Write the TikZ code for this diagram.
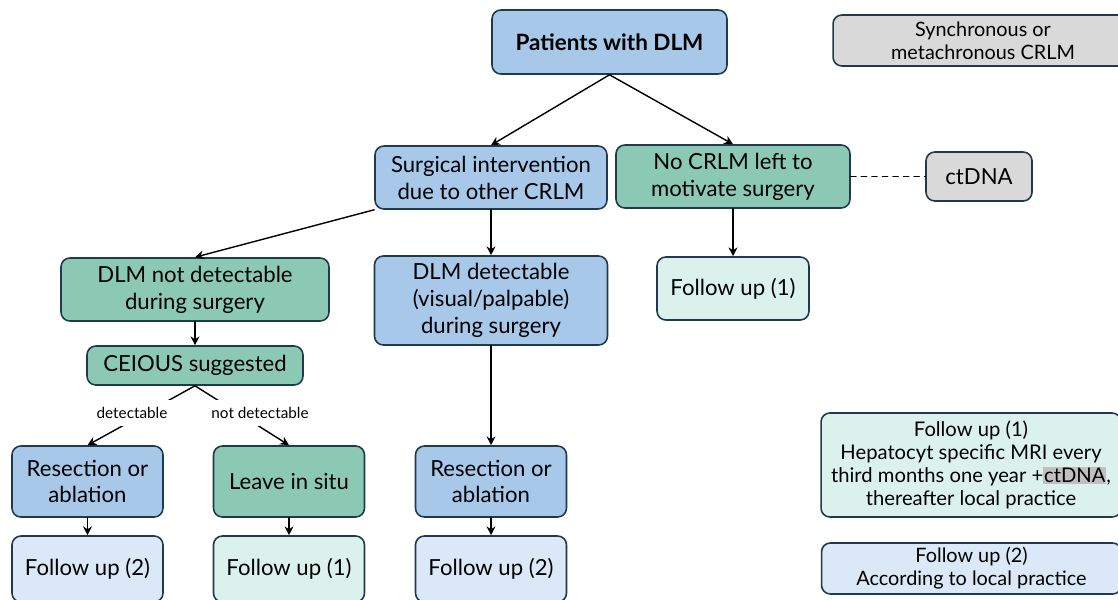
\documentclass[tikz,border=0pt]{standalone}
\usepackage{fontspec}
\setmainfont{Lato}
\usepackage{tikz}
\usetikzlibrary{arrows.meta}
\definecolor{edgeline}{RGB}{30,58,76}
\definecolor{bluebox}{RGB}{167,200,233}
\definecolor{greenbox}{RGB}{140,201,181}
\definecolor{lightgreen}{RGB}{218,242,235}
\definecolor{lightblue}{RGB}{218,232,247}
\definecolor{graybox}{RGB}{217,217,217}
\definecolor{hlgray}{RGB}{192,192,192}
\newcommand{\hlword}[1]{{\setlength{\fboxsep}{0.5pt}\colorbox{hlgray}{#1}}}

\begin{document}
\begin{tikzpicture}[x=0.02cm,y=-0.02cm,line cap=round,line join=round,>={Stealth[length=5pt,width=5pt]}]
\tikzset{box/.style={draw=edgeline,line width=0.9pt,rounded corners=5pt,align=center,inner sep=0pt,font=\fontsize{12.6}{15.3}\selectfont},
  blue/.style={box,fill=bluebox}, green/.style={box,fill=greenbox}, gray/.style={box,fill=graybox},
  lgreen/.style={box,fill=lightgreen}, lblue/.style={box,fill=lightblue},
  lbl/.style={fill=white,inner sep=4pt,font=\fontsize{8.7}{10}\selectfont},
  conn/.style={->,line width=0.8pt,black}}
\useasboundingbox (0,0) rectangle (1118,599);
% top row
\node[blue,minimum width=4.7cm,minimum height=1.28cm,font=\fontsize{12.8}{15}\selectfont\bfseries] (pat) at (609.5,42) {Patients with DLM};
\node[gray,minimum width=6cm,minimum height=1.02cm,font=\fontsize{11.3}{13}\selectfont] (sync) at (983,40.5) {Synchronous or\\metachronous CRLM};
% second row
\node[blue,minimum width=4.64cm,minimum height=1.26cm] (surg) at (491,177.5) {Surgical intervention\\due to other CRLM};
\node[green,minimum width=4.68cm,minimum height=1.26cm] (nocrlm) at (733,176.5) {No CRLM left to\\motivate surgery};
\node[gray,minimum width=2.12cm,minimum height=0.98cm] (ctdna) at (979,176.5) {ctDNA};
% third row
\node[green,minimum width=5.36cm,minimum height=1.26cm] (dlmnot) at (195,289.5) {DLM not detectable\\during surgery};
\node[blue,minimum width=4.66cm,minimum height=1.78cm] (dlmdet) at (491,300.5) {DLM detectable\\(visual/palpable)\\during surgery};
\node[lgreen,minimum width=3.04cm,minimum height=1.26cm] (fuone) at (733,288.5) {Follow up (1)};
\node[green,minimum width=4.32cm,minimum height=0.78cm] (ceious) at (195,365.5) {CEIOUS suggested};
% bottom rows
\node[blue,minimum width=3.02cm,minimum height=1.42cm] (resleft) at (87.5,481.5) {Resection or\\ablation};
\node[green,minimum width=3.02cm,minimum height=1.42cm] (leave) at (289,481.5) {Leave in situ};
\node[blue,minimum width=3.02cm,minimum height=1.42cm] (resmid) at (491,481.5) {Resection or\\ablation};
\node[lblue,minimum width=3.02cm,minimum height=1.32cm] (futwoleft) at (87.5,569) {Follow up (2)};
\node[lgreen,minimum width=3.02cm,minimum height=1.32cm] (fuonebot) at (289,569) {Follow up (1)};
\node[lblue,minimum width=3.02cm,minimum height=1.32cm] (futwomid) at (491,569) {Follow up (2)};
% legend
\node[lgreen,minimum width=6cm,minimum height=2.08cm,font=\fontsize{11.5}{13.2}\selectfont] (legone) at (971,465) {Follow up (1)\\Hepatocyt specific MRI every\\third months one year +\hlword{ctDNA},\\thereafter local practice};
\node[lblue,minimum width=6cm,minimum height=1.02cm,font=\fontsize{11.3}{13}\selectfont] (legtwo) at (971.5,568.5) {Follow up (2)\\According to local practice};
% connectors
\draw[conn] (pat.south) -- (surg.north);
\draw[conn] (pat.south) -- (nocrlm.north);
\draw[line width=0.8pt,dashed] (nocrlm.east) -- (ctdna.west);
\draw[conn] (surg.south west) -- (dlmnot.north);
\draw[conn] (surg.south) -- (dlmdet.north);
\draw[conn] (nocrlm.south) -- (fuone.north);
\draw[conn] (dlmnot.south) -- (ceious.north);
\draw[conn] (ceious.south) -- (resleft.north);
\draw[conn] (ceious.south) -- (leave.north);
\node[lbl] (lbldet) at (132,413) {detectable};
\node[lbl] (lblnotdet) at (260,413) {not detectable};
\draw[conn] (resleft.south) -- (futwoleft.north);
\draw[conn] (leave.south) -- (fuonebot.north);
\draw[conn] (dlmdet.south) -- (resmid.north);
\draw[conn] (resmid.south) -- (futwomid.north);
\end{tikzpicture}
\end{document}
